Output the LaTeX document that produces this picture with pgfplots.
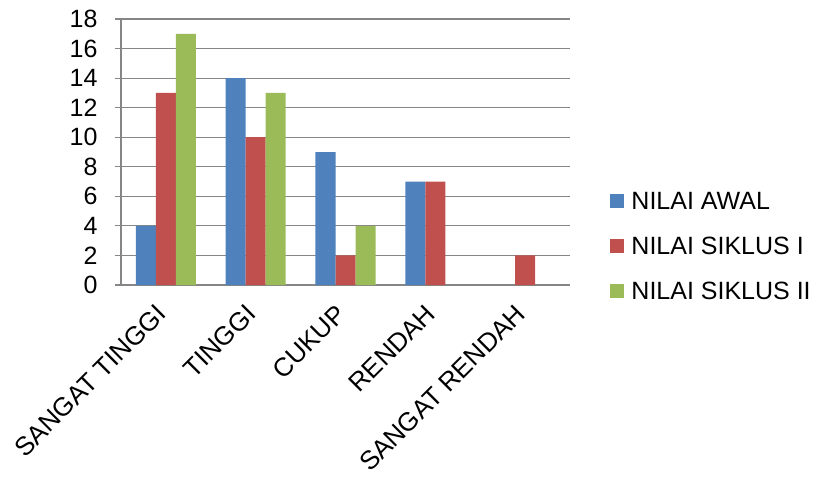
\documentclass[border=0pt]{standalone}
\usepackage{pgfplots}
\pgfplotsset{compat=1.18}
\usepackage{fontspec}
\setmainfont{Liberation Sans}
\definecolor{cblue}{HTML}{4F81BD}
\definecolor{cred}{HTML}{C0504D}
\definecolor{cgreen}{HTML}{9BBB59}
\definecolor{cgrid}{HTML}{868686}
\begin{document}
\begin{tikzpicture}
\path[use as bounding box] (-121pt,-194pt) rectangle (703pt,285pt);
\begin{axis}[
  scale only axis,
  width=449pt, height=266pt,
  at={(0,0)}, anchor=south west,
  ybar=0pt, bar width=20pt,
  xmin=-0.5, xmax=4.5,
  ymin=0, ymax=18,
  ytick={0,2,...,18},
  xtick={0,1,2,3,4},
  xticklabels={SANGAT TINGGI,TINGGI,CUKUP,RENDAH,SANGAT RENDAH},
  major x tick style={draw=none},
  extra x ticks={-0.5,0.5,1.5,2.5,3.5,4.5},
  extra x tick labels={},
  extra x tick style={major tick length=6pt, tick style={draw=cgrid, line width=1.2pt}, grid=none},
  ymajorgrids,
  grid style={cgrid, line width=1.2pt},
  axis line style={cgrid, line width=1.2pt},
  axis x line*=bottom, axis y line*=left,
  tick align=outside,
  major tick length=6pt,
  ytick style={cgrid, line width=1.2pt},
  tick label style={font=\fontsize{25}{28}\selectfont},
  /pgf/number format/assume math mode=true,
  yticklabel style={xshift=-14pt},
  xticklabel style={font=\fontsize{26}{29}\selectfont, inner sep=1pt, rotate=45, anchor=east, xshift=-15pt, yshift=-10pt},
  legend style={at={(1.083,0.365)}, anchor=north west, draw=none, fill=none,
    font=\fontsize{25}{28}\selectfont, row sep=22pt,
    /tikz/every odd column/.append style={column sep=5pt}},
  legend cell align=left,
  legend image code/.code={\fill[#1] (0pt,-7pt) rectangle (14pt,7pt);},
  enlarge x limits=false,
  clip=false,
]
\addplot[fill=cblue, draw=none] coordinates {(0,4) (1,14) (2,9) (3,7)};
\addplot[fill=cred, draw=none] coordinates {(0,13) (1,10) (2,2) (3,7) (4,2)};
\addplot[fill=cgreen, draw=none] coordinates {(0,17) (1,13) (2,4)};
\legend{NILAI AWAL,NILAI SIKLUS I,NILAI SIKLUS II}
\end{axis}
\end{tikzpicture}
\end{document}
